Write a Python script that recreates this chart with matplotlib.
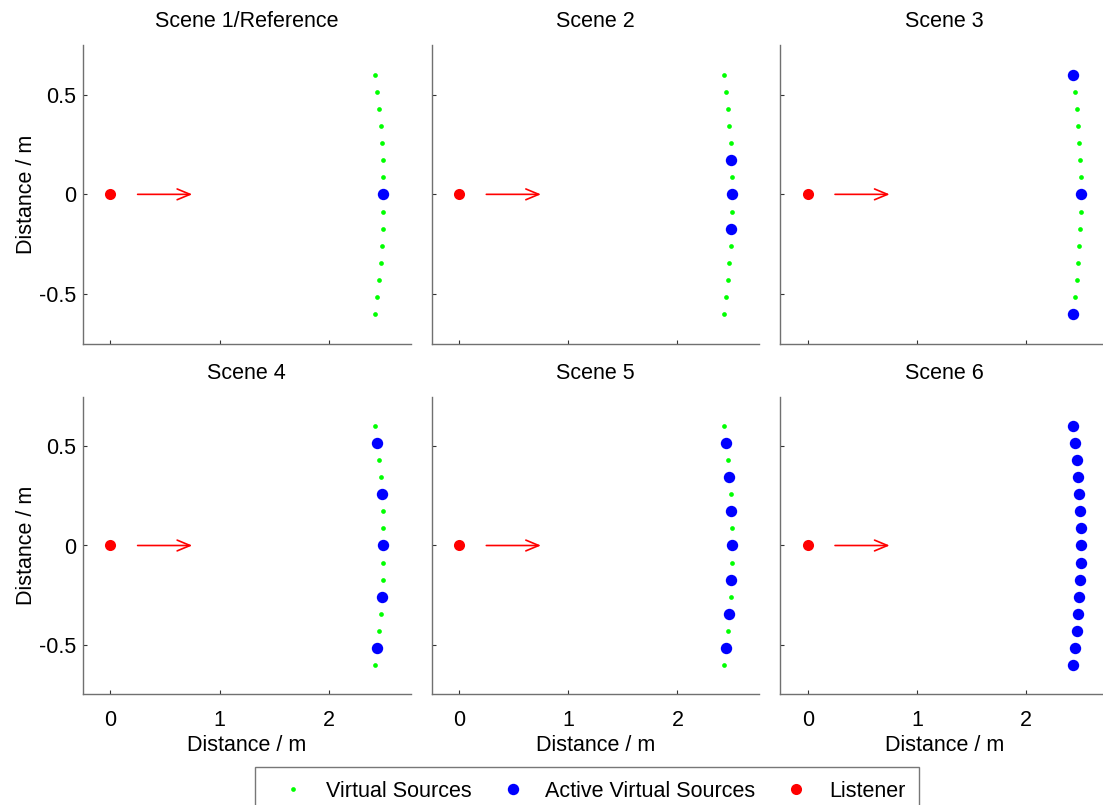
import matplotlib
matplotlib.use("Agg")
import matplotlib.pyplot as plt
from matplotlib.lines import Line2D

plt.rcParams['font.family'] = ['Liberation Sans', 'DejaVu Sans']
plt.rcParams['font.size'] = 15.5

# Virtual source positions (arc in front of the listener), index 0 = top
vs_x = [2.427, 2.446, 2.4625, 2.476, 2.4865, 2.494, 2.4985, 2.5,
        2.4985, 2.494, 2.4865, 2.476, 2.4625, 2.446, 2.427]
vs_y = [0.6, 0.515, 0.430, 0.345, 0.259, 0.173, 0.0866, 0.0,
        -0.0866, -0.173, -0.259, -0.345, -0.430, -0.515, -0.6]

# Active source indices per scene
titles = ["Scene 1/Reference", "Scene 2", "Scene 3", "Scene 4", "Scene 5", "Scene 6"]
active = [
    [7],
    [5, 7, 9],
    [0, 7, 14],
    [1, 4, 7, 10, 13],
    [1, 3, 5, 7, 9, 11, 13],
    list(range(15)),
]
listener_x = [0.0]
listener_y = [0.0]
arrow_start = (0.25, 0.0)
arrow_end = (0.75, 0.0)

W, H = 1103, 805
fig = plt.figure(figsize=(W / 100, H / 100), dpi=100)

lefts = [83 / W, 431.7 / W, 780.4 / W]
width = 327.7 / W
bottoms = [1 - 343.7 / H, 1 - 694.3 / H]
heights = [298.7 / H, 297.6 / H]

spine_col = '#707070'
for i in range(6):
    r, c = divmod(i, 3)
    ax = fig.add_axes([lefts[c], bottoms[r], width, heights[r]])
    ax.set_xlim(-0.25, 2.75)
    ax.set_ylim(-0.75, 0.75)
    ax.set_xticks([0, 1, 2])
    ax.set_yticks([-0.5, 0, 0.5])
    ax.set_yticklabels(['-0.5', '0', '0.5'])
    for s in ['top', 'right']:
        ax.spines[s].set_visible(False)
    for s in ['left', 'bottom']:
        ax.spines[s].set_color(spine_col)
        ax.spines[s].set_linewidth(1.0)
    ax.tick_params(direction='in', length=3, width=0.8, color='#333333')
    ax.tick_params(axis='x', pad=11)
    ax.tick_params(axis='y', pad=5)
    if r == 0:
        ax.tick_params(labelbottom=False)
    else:
        ax.set_xlabel('Distance / m', labelpad=3)
    if c != 0:
        ax.tick_params(labelleft=False)
    else:
        ax.set_ylabel('Distance / m', labelpad=1)
    ax.set_title(titles[i], pad=13, fontsize=15.5)

    ax.plot(vs_x, vs_y, 'o', color='#00ff00', markersize=3.4, markeredgewidth=0)
    ax.plot([vs_x[k] for k in active[i]], [vs_y[k] for k in active[i]], 'o',
            color='#0000ff', markersize=8.2, markeredgewidth=0)
    ax.plot(listener_x, listener_y, 'o', color='#ff0000', markersize=8.0, markeredgewidth=0)
    ax.annotate('', xy=arrow_end, xytext=arrow_start,
                arrowprops=dict(arrowstyle='->,head_length=0.6,head_width=0.25',
                                color='#ff0000', lw=1.2, shrinkA=0, shrinkB=0))

handles = [
    Line2D([], [], linestyle='none', marker='o', color='#00ff00', markersize=3.4, markeredgewidth=0),
    Line2D([], [], linestyle='none', marker='o', color='#0000ff', markersize=8.2, markeredgewidth=0),
    Line2D([], [], linestyle='none', marker='o', color='#ff0000', markersize=8.0, markeredgewidth=0),
]
leg = fig.legend(handles, ['Virtual Sources', 'Active Virtual Sources', 'Listener'],
                 loc='upper center', bbox_to_anchor=(587 / W, 1 - 767 / H), ncol=3,
                 frameon=True, fancybox=False, edgecolor='#555555',
                 handlelength=2.3, columnspacing=0.75, handletextpad=0.37,
                 borderpad=0.65, borderaxespad=0)
leg.get_frame().set_linewidth(1.0)

fig.savefig('out.png', dpi=100)
